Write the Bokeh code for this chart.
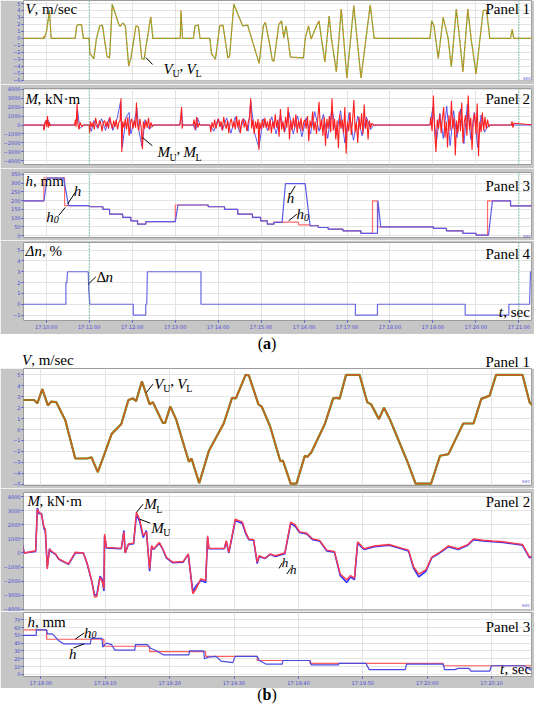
from bokeh.plotting import figure
from bokeh.layouts import column
from bokeh.models import Div, Label, Span
from bokeh.embed import file_html
from bokeh.resources import INLINE

# ===================== DATA (a) : time in minutes after 17:00 =====================
A_TICKS = [10, 11, 12, 13, 14, 15, 16, 17, 18, 19, 20, 21]
A_TICK_LABELS = ["17:10:00", "17:11:00", "17:12:00", "17:13:00", "17:14:00", "17:15:00",
                 "17:16:00", "17:17:00", "17:18:00", "17:19:00", "17:20:00", "17:21:00"]

# Panel 1 (a): V, m/sec  (V_U and V_L overlap)
VA_T = [9.40, 9.94, 9.947, 9.96, 10.007, 10.077, 10.115, 10.673, 10.711, 10.76, 10.826, 10.864,
        11.0, 11.017, 11.108, 11.170, 11.246, 11.308, 11.415, 11.475, 11.537, 11.690, 11.720,
        11.782, 11.842, 11.920, 11.973, 12.088, 12.149, 12.225, 12.278, 12.432, 12.484,
        13.120, 13.136, 13.173, 13.425, 13.464, 13.540, 13.579, 13.808, 13.847, 13.939,
        14.037, 14.113, 14.228, 14.267, 14.366, 14.572, 14.687, 14.955, 15.054, 15.10,
        15.184, 15.260, 15.299, 15.414, 15.476, 15.529, 15.582, 15.627, 15.682, 15.987,
        16.026, 16.102, 16.164, 16.292, 16.348, 16.407, 16.485, 16.584, 16.637, 16.752,
        16.866, 16.997, 17.157, 17.325, 17.540, 17.632, 18.931, 18.970, 19.023, 19.124,
        19.238, 19.353, 19.428, 19.543, 19.620, 19.697, 19.811, 19.887, 20.002, 20.169,
        20.247, 20.323, 20.805, 20.844, 20.881, 21.36]
VA = [0, 0, 0.3, 0, 1.0, 4.0, 0, 0, 1.8, 2.0, 1.9, 0,
      0, -2.2, -2.9, 0, 1.8, 1.9, -2.6, -2.8, 4.9, 2.0, 1.7,
      2.2, 1.8, -4.0, -2.8, 1.8, 1.6, -2.9, -3.0, 3.1, 0,
      0, 4.0, 0, 0, 1.8, 1.9, 0, 0, -2.2, -3.0,
      1.8, 1.9, -2.8, -2.6, 4.9, 1.8, 1.9, -3.6, 1.8, 2.3,
      -0.3, -3.1, -3.3, 2.0, 2.5, 0.1, 1.8, -0.1, -2.7, -2.8,
      -0.1, 1.8, -0.1, 1.8, 2.5, -0.1, -3.4, 3.2, 0, -4.8,
      4.2, -5.7, 4.7, -5.7, 4.8, 0, 0, 2.5, 1.8, -2.9,
      3.0, 0, -4.1, 4.2, 0, -4.8, 4.2, 0, -5.1, 4.0,
      4.0, 0, 0, 1.3, 0, 0]

# Panel 2 (a): M, kN*m  (M_L red, M_U blue)
MA_L_T = [9.40, 9.94, 9.95, 9.965, 9.99, 10.01, 10.03, 10.05, 10.07, 10.09, 10.11,
          10.66, 10.68, 10.695, 10.72, 10.735, 10.76, 10.79, 10.83, 10.86,
          11.0, 11.01, 11.03, 11.06, 11.09, 11.12, 11.15, 11.18, 11.21, 11.24, 11.27, 11.30,
          11.33, 11.36, 11.39, 11.42, 11.45, 11.48, 11.51, 11.54, 11.57, 11.60, 11.63, 11.66,
          11.69, 11.72, 11.74, 11.76, 11.78, 11.81, 11.84, 11.87, 11.90, 11.93, 11.96, 11.99,
          12.02, 12.05, 12.08, 12.10, 12.12, 12.15, 12.18, 12.21, 12.24, 12.26, 12.29, 12.32,
          12.35, 12.38, 12.41, 12.44, 12.47, 12.49,
          13.11, 13.13, 13.15, 13.165, 13.18, 13.42, 13.44, 13.47, 13.50, 13.53, 13.56, 13.58,
          13.81, 13.83, 13.86, 13.89, 13.92, 13.95, 13.98, 14.01, 14.04, 14.07, 14.10, 14.13,
          14.16, 14.19, 14.22, 14.25, 14.28, 14.31, 14.34, 14.37, 14.40, 14.43, 14.46, 14.49,
          14.52, 14.55, 14.58, 14.61, 14.64, 14.67, 14.70, 14.73, 14.76, 14.78, 14.81, 14.84,
          14.87, 14.90, 14.93, 14.95, 14.97, 15.00, 15.03, 15.06, 15.09, 15.12, 15.15, 15.18,
          15.21, 15.24, 15.27, 15.30, 15.33, 15.36, 15.39, 15.42, 15.45, 15.48, 15.51, 15.54,
          15.57, 15.60, 15.63, 15.66, 15.69, 15.72, 15.75, 15.78, 15.81, 15.84, 15.87, 15.90,
          15.93, 15.96, 15.99, 16.02, 16.05, 16.08, 16.11, 16.14, 16.17, 16.20, 16.23, 16.26,
          16.29, 16.32, 16.35, 16.38, 16.41, 16.44, 16.47, 16.50, 16.53, 16.56, 16.59, 16.62,
          16.65, 16.68, 16.71, 16.74, 16.77, 16.80, 16.83, 16.86, 16.89, 16.92, 16.95, 16.98,
          17.01, 17.04, 17.07, 17.10, 17.13, 17.16, 17.19, 17.22, 17.25, 17.28, 17.31, 17.34,
          17.37, 17.40, 17.43, 17.46, 17.49, 17.52, 17.55, 17.58, 17.62,
          18.93, 18.95, 18.98, 19.01, 19.04, 19.07, 19.10, 19.13, 19.16, 19.19, 19.22, 19.25,
          19.28, 19.31, 19.34, 19.37, 19.40, 19.43, 19.46, 19.49, 19.52, 19.55, 19.58, 19.61,
          19.64, 19.67, 19.70, 19.73, 19.76, 19.79, 19.82, 19.85, 19.88, 19.91, 19.94, 19.97,
          20.00, 20.03, 20.06, 20.09, 20.12, 20.15, 20.18, 20.21, 20.24, 20.27, 20.30, 20.33,
          20.82, 20.84, 20.86, 20.88, 21.36]
MA_L = [0, 0, -600, 100, 500, -200, 1000, -300, 300, -100, 0,
        0, 600, -200, 2400, 200, -500, 300, -200, 0,
        0, -900, 400, -200, 300, -500, 800, 100, -300, 500, 200, -700,
        300, 500, -200, 400, -400, 900, 200, -400, 500, -200, 600, -500,
        300, 500, 3000, -3000, 400, -300, 700, -500, 900, -1200, 300, 700,
        -400, 500, -300, 2500, 200, -600, 700, -300, -2700, 400, -400, 500,
        -300, 800, -400, 300, -200, 0,
        0, 800, 2000, -400, 0, 0, 600, -500, 900, -300, 200, 0,
        0, -800, 300, -300, 600, -400, 200, 700, -200, 400, -600, 900,
        100, -400, 500, -900, 300, 700, -300, 400, -500, 1000, -300, 600,
        -900, 400, 700, -300, 500, -700, 300, 800, 3000, -400, 600, -1000,
        400, -400, 700, -2800, 300, -500, 600, -300, 800, -300, 400, -600,
        700, -900, 400, -400, 1200, -300, 600, -1300, 1800, -500, 400, -800,
        900, -300, 2000, -1600, 500, -600, 800, -300, 1200, -900, 500, -400,
        800, -700, 300, 600, -400, 1000, -1800, 500, -300, 1500, -600, 400,
        -1000, 700, 2600, -500, 600, -1200, 900, -2300, 700, -400, 1000, -800,
        3000, -600, 700, -1600, 500, -2600, 1200, -400, 600, -900, 2000, -3200,
        400, -700, 1400, -1100, 600, 2800, -800, 300, -2000, 900, -500, 1300,
        -1000, 2300, -400, 700, -1600, 500, -300, 200, 0,
        0, 900, -700, 3300, -800, -3000, 600, -400, 1200, -900, 700, 2000,
        -1400, 400, -2500, 1100, -600, 2700, -400, 800, -3400, 500, -900, 1500,
        -700, 2500, -2000, 400, 1100, -1200, 3300, -500, 800, -2800, 600, 1300,
        -1000, 2400, -3500, 400, -800, 1400, -600, 900, -400, 600, -200, 0,
        0, 400, -300, 200, 0]

MA_U_T = [9.40, 9.94, 9.95, 9.98, 10.04, 10.10, 10.66, 10.70, 10.73, 10.78, 10.86,
          11.0, 11.05, 11.11, 11.20, 11.29, 11.38, 11.47, 11.55, 11.65, 11.73, 11.77, 11.86,
          11.93, 11.97, 12.06, 12.11, 12.16, 12.23, 12.30, 12.40, 12.49,
          13.11, 13.15, 13.18, 13.42, 13.48, 13.52, 13.58,
          13.81, 13.90, 14.00, 14.10, 14.20, 14.30, 14.40, 14.50, 14.60, 14.70, 14.76, 14.85,
          14.95, 15.05, 15.15, 15.25, 15.35, 15.45, 15.55, 15.65, 15.75, 15.85, 15.95, 16.05,
          16.15, 16.25, 16.35, 16.45, 16.55, 16.65, 16.75, 16.85, 16.95, 17.05, 17.15, 17.25,
          17.35, 17.45, 17.55, 17.62,
          18.93, 19.00, 19.08, 19.16, 19.24, 19.32, 19.40, 19.48, 19.56, 19.64, 19.72, 19.80,
          19.88, 19.96, 20.04, 20.12, 20.20, 20.30, 21.36]
MA_U = [0, 0, -500, 400, 600, 0, 0, 500, 1700, -400, 0,
        0, -700, 500, -400, 700, -600, 800, -600, 700, 2600, -2500, 900,
        1400, -1000, 600, 1900, -700, -2400, 600, -500, 0,
        0, 1500, 0, 0, -600, 800, 0,
        0, -700, 700, -600, 800, -900, 900, -800, 700, -700, 2600, -900,
        -2500, 700, -600, 900, -1000, 1100, -800, 1400, -1000, 1000, -1300, 800,
        -1000, 1500, -700, 1200, -1500, 1900, -1100, 1600, -2000, 1400, -1700, 1000,
        -1200, 900, -500, 0,
        0, 2000, -1900, 1300, -1500, 2100, -2300, 1600, -1400, 1800, -2100, 2300,
        -1600, 1400, -2500, 1100, -800, 0, 0]

# Panel 3 (a): h, mm  (h0 red, h blue)
HA0_T = [9.40, 9.947, 9.947, 10.428, 10.428, 11.0, 11.0, 11.32, 11.32, 11.475, 11.475, 11.78,
         11.78, 11.97, 11.97, 12.126, 12.126, 12.317, 12.317, 13.005, 13.005, 13.77, 13.77,
         14.15, 14.15, 14.457, 14.457, 14.80, 14.80, 14.99, 14.99, 15.146, 15.146, 15.299,
         15.299, 15.873, 15.873, 16.141, 16.141, 16.332, 16.332, 16.561, 16.561, 16.905,
         16.905, 17.325, 17.325, 17.593, 17.593, 17.708, 17.708, 19.008, 19.008, 19.314,
         19.314, 19.697, 19.697, 20.002, 20.002, 20.27, 20.27, 20.805, 20.805, 21.36]
HA0 = [199, 199, 330, 330, 172, 172, 165, 165, 150, 150, 123, 123,
       104, 104, 85, 85, 66, 66, 80, 80, 175, 175, 165,
       165, 150, 150, 123, 123, 104, 104, 85, 85, 66, 66,
       78, 78, 62, 62, 57, 57, 47, 47, 38, 38,
       28, 28, 13, 13, 199, 199, 51, 51, 42, 42,
       28, 28, 13, 13, 4, 4, 199, 199, 170, 170]
HA_T = [9.40, 9.947, 10.023, 10.405, 10.52, 11.0, 11.0, 11.32, 11.32, 11.475, 11.475, 11.78,
        11.78, 11.97, 11.97, 12.126, 12.126, 12.317, 12.317, 13.005, 13.066, 13.77, 13.77,
        14.15, 14.15, 14.457, 14.457, 14.80, 14.80, 14.99, 14.99, 15.146, 15.146, 15.299,
        15.299, 15.49, 15.567, 16.026, 16.141, 16.332, 16.332, 16.561, 16.561, 16.905,
        16.905, 17.325, 17.325, 17.708, 17.72, 17.784, 19.008, 19.008, 19.314,
        19.314, 19.697, 19.697, 20.002, 20.002, 20.293, 20.384, 20.805, 20.805, 21.36]
HA = [199, 199, 328, 328, 172, 172, 165, 165, 150, 150, 123, 123,
      104, 104, 85, 85, 66, 66, 80, 80, 175, 175, 165,
      165, 150, 150, 123, 123, 104, 104, 85, 85, 66, 66,
      76, 76, 297, 297, 57, 57, 47, 47, 38, 38,
      28, 28, 13, 13, 199, 51, 51, 42, 42,
      28, 28, 13, 13, 4, 4, 199, 199, 170, 170]

# Panel 4 (a): delta n, %
DN_T = [9.40, 10.459, 10.459, 10.48, 10.497, 10.979, 10.99, 11.017, 12.026, 12.026, 12.317,
        12.317, 12.34, 12.355, 13.602, 13.602, 17.195, 17.195, 17.708, 17.708, 19.750, 19.750,
        20.766, 20.766, 21.248, 21.255, 21.27, 21.36]
DN = [0, 0, 2, 2, 3, 3, 1.3, 0, 0, -1, -1,
      0, 0, 3, 3, 0, 0, -1, -1, 0, 0, -1,
      -1, 0, 0, 1, 3, 3]

# ===================== DATA (b) : seconds after 17:19:00 =====================
B_TICKS = [0, 10, 20, 30, 40, 50, 60, 70]
B_TICK_LABELS = ["17:19:00", "17:19:10", "17:19:20", "17:19:30", "17:19:40", "17:19:50",
                 "17:20:00", "17:20:10"]

VB_T = [-2.85, -1.05, -0.54, 0.23, 1.1, 1.6, 2.4, 3.8, 5.35, 7.15, 7.9, 8.2, 8.85, 9.97, 11.0,
        12.5, 13.6, 14.3, 14.8, 15.7, 16.9, 17.4, 18.95, 19.3, 20.1, 21.0, 23.0, 23.4, 24.6,
        26.1, 28.4, 29.7, 30.3, 31.8, 32.3, 33.8, 34.3, 35.6, 37.2, 37.6, 38.8, 39.7, 41.0,
        41.4, 42.0, 44.1, 45.4, 46.1, 46.4, 47.4, 49.5, 50.7, 51.3, 52.5, 53.3, 54.3, 56.9,
        58.2, 60.6, 62.0, 63.3, 65.6, 67.2, 68.4, 69.7, 70.7, 74.8, 75.9, 76.7]
VB = [2.7, 2.7, 2.4, 3.7, 2.2, 2.55, 2.5, 0.85, -2.65, -2.65, -2.55, -3.0, -3.9, -2.1, -0.4,
      0.5, 2.7, 2.85, 2.6, 4.4, 2.3, 2.5, 0.6, 0.6, 2.1, 0.95, -2.95, -2.65, -4.9,
      -1.95, 0.55, 2.9, 2.85, 5.0, 4.95, 2.3, 2.1, 0.3, -2.9, -2.85, -4.95, -4.95, -2.4,
      -2.5, -2.1, 0.5, 2.85, 2.9, 2.8, 5.0, 5.0, 2.5, 2.3, 0.95, 2.0, 0.8, -2.9,
      -4.95, -4.95, -2.4, -2.25, 0.55, 0.55, 2.8, 3.1, 5.0, 5.0, 2.5, 1.95]

MB_T = [-2.85, -2.6, -0.8, -0.54, -0.28, 0.1, 0.5, 0.7, 1.0, 1.35, 1.6, 2.3, 2.8, 3.6, 4.3,
        5.35, 6.6, 7.15, 7.9, 8.35, 8.7, 9.2, 9.5, 9.8, 9.9, 10.2, 12.5, 12.9, 13.1, 13.6,
        14.4, 14.85, 15.35, 15.9, 16.4, 16.9, 17.2, 17.5, 18.4, 18.95, 19.5, 20.5, 22.1, 22.9,
        23.6, 24.1, 24.85, 25.6, 25.9, 26.1, 28.5, 28.8, 29.2, 30.2, 31.3, 31.8, 32.3, 33.05,
        33.6, 33.9, 34.8, 35.6, 36.4, 37.9, 38.8, 39.5, 40.2, 41.3, 42.2, 43.3, 44.4, 45.6,
        46.5, 47.5, 48.1, 48.7, 49.2, 50.2, 51.8, 54.1, 55.6, 57.1, 57.9, 58.7, 59.8, 60.7,
        61.8, 63.3, 64.8, 66.3, 67.2, 68.7, 70.2, 71.8, 73.3, 74.8, 75.9, 76.4]
MB_L = [520, 0, 160, 3100, 2900, 2750, 1800, 1700, -1130, 280, 160, -70, -420, -610, -780,
        50, 0, -660, -1960, -3140, -3100, -1720, -1960, -2550, 1350, 400, 330, 1500, 0, 640,
        700, 2900, 2400, 1230, 1500, -1130, 520, 280, 750, 280, -300, -660, -610, -70,
        -2900, -2550, -1840, -1960, 1230, 330, 330, 870, 50, 2400, 2200, 1500, 990, 950,
        -660, -190, -380, -70, -200, 0, 2200, 2000, 1500, 1400, 1000, 900, 200, 100,
        -1500, -1900, -1600, -1800, 800, 300, 500, 600, 400, 200, -1000, -1500, -1200, -300,
        0, 500, 300, 600, 1000, 900, 850, 800, 700, 600, -300, -200]
MB_U = [600, 0, 100, 3200, 2800, 2800, 1700, 1600, -1000, 300, 100, -100, -450, -650, -800,
        0, 0, -700, -2000, -3000, -2950, -1650, -1850, -2700, 1200, 350, 300, 1600, 0, 600,
        650, 2700, 2250, 1100, 1600, -1300, 450, 250, 700, 250, -350, -700, -650, -100,
        -2750, -2350, -1950, -2100, 1100, 300, 300, 800, 0, 2300, 2100, 1400, 950, 900,
        -750, -250, -400, -100, -250, -50, 2100, 1900, 1450, 1350, 950, 850, 150, 50,
        -1600, -2100, -1700, -1900, 700, 250, 450, 550, 350, 150, -1100, -1700, -1300, -350,
        -50, 450, 250, 550, 950, 850, 800, 750, 650, 550, -350, -250]

HB0_T = [-2.85, 0.9, 0.9, 9.8, 9.8, 16.9, 16.9, 25.6, 25.6, 33.6, 33.6, 41.8, 41.8, 62.5,
         62.5, 76.2]
HB0 = [57, 57, 45, 45, 36, 36, 29, 29, 23, 23, 17.7, 17.7, 14, 14, 11, 11]
HB_T = [-2.85, -0.7, -0.7, 0.9, 1.0, 1.8, 2.8, 3.6, 7.7, 7.8, 9.5, 9.6, 10.2, 11.0, 11.5,
        14.6, 14.7, 16.6, 16.9, 18.0, 19.0, 23.0, 23.1, 25.3, 25.4, 26.0, 27.2, 28.0, 29.8,
        30.2, 33.6, 33.9, 35.0, 37.5, 37.6, 41.8, 42.0, 46.2, 46.3, 50.5, 51.0, 56.6, 56.8,
        62.5, 62.7, 64.3, 64.8, 66.5, 66.8, 69.7, 70.0, 75.0, 76.2]
HB = [50, 50, 57, 57, 52, 52, 43, 39, 39, 46, 46, 35, 40, 38, 31,
      31, 38, 38, 34, 30, 25, 25, 30, 30, 20, 22, 23, 17, 15,
      23, 23, 18, 13, 13, 17.7, 17.7, 12, 12, 14, 14, 6, 6, 13,
      13, 6, 6, 7.6, 7.6, 4, 4, 11, 11, 5]

# ===================== helpers =====================
SERIF = "Liberation Serif"
TICK_BLUE = "#4b4bd2"
GRID = "#e4e4e4"


def make_fig(height, xr, yr, yticks, top, bottom, right, xticks, xlabels, show_x):
    p = figure(width=534, height=height, x_range=xr, y_range=yr, output_backend="svg",
               toolbar_location=None, min_border_top=top, min_border_bottom=bottom,
               min_border_left=18, min_border_right=right, margin=0)
    p.border_fill_color = "#c6c6c6"
    p.background_fill_color = "white"
    p.outline_line_color = "#9c9c9c"
    p.yaxis.ticker = yticks
    p.xaxis.ticker = xticks
    p.xgrid.ticker = xticks
    p.ygrid.ticker = yticks
    p.xaxis.major_label_overrides = {t: l for t, l in zip(xticks, xlabels)}
    p.grid.grid_line_color = GRID
    p.axis.axis_line_color = None
    p.axis.major_tick_line_color = TICK_BLUE
    p.axis.major_tick_out = 2
    p.axis.major_tick_in = 0
    p.axis.minor_tick_line_color = None
    p.axis.major_label_text_font_size = "5px"
    p.axis.major_label_text_color = TICK_BLUE
    p.axis.major_label_text_font = "DejaVu Sans"
    p.axis.major_label_standoff = 1
    p.xaxis.visible = show_x
    return p


def txt(p, x, y, text, size=15, style="normal", align="left", xoff=0, color="black",
        font=SERIF):
    p.add_layout(Label(x=x, y=y, text=text, text_font=font, text_font_size=f"{size}px",
                       text_font_style=style, text_align=align, text_baseline="top",
                       text_color=color, x_offset=xoff))


# ===================== (a) =====================
AX = (9.472, 21.293)
XL = 9.52
a1 = make_fig(84, AX, (-6.05, 5.43), list(range(-6, 6)), 0, 4, 1, A_TICKS, A_TICK_LABELS, False)
a1.line(VA_T, VA, line_color="#7f9f2f", line_width=1.2)
a1.line(VA_T, VA, line_color="#e39226", line_width=1.2, line_dash="2 3")
txt(a1, XL, 5.29, "V", style="italic")
txt(a1, XL, 5.29, ", m/sec", xoff=9)
txt(a1, 21.26, 5.29, "Panel 1", align="right")
txt(a1, 12.729, -3.32, "V", style="italic")
txt(a1, 12.729, -4.3, "U", size=10, xoff=9)
txt(a1, 12.729, -3.32, ",", xoff=16)
txt(a1, 12.729, -3.32, "V", style="italic", xoff=23)
txt(a1, 12.729, -4.3, "L", size=10, xoff=32)
a1.segment(x0=[12.317], y0=[-2.75], x1=[12.477], y1=[-3.75], line_color="black", line_width=1)
txt(a1, 21.29, -5.3, "sec", size=5, align="right", color=TICK_BLUE, font="DejaVu Sans")

a2 = make_fig(84, AX, (-4410, 4080), list(range(-4000, 4001, 1000)), 4, 4, 1, A_TICKS,
              A_TICK_LABELS, False)
a2.line(MA_U_T, MA_U, line_color="#4646f0", line_width=0.9)
a2.line(MA_L_T, MA_L, line_color="#ff1f1f", line_width=1.1)
txt(a2, XL, 3745, "M", style="italic")
txt(a2, XL, 3745, ", kN·m", xoff=12)
txt(a2, 21.26, 3745, "Panel 2", align="right")
txt(a2, 12.59, -2175, "M", style="italic")
txt(a2, 12.59, -3000, "U", size=10, xoff=12)
txt(a2, 12.59, -2175, ",", xoff=19)
txt(a2, 12.59, -2175, "M", style="italic", xoff=26)
txt(a2, 12.59, -3000, "L", size=10, xoff=38)
a2.segment(x0=[12.24], y0=[-1393], x1=[12.47], y1=[-2320], line_color="black", line_width=1)

a3 = make_fig(72, AX, (-10, 360), list(range(0, 351, 50)), 4, 3, 1, A_TICKS, A_TICK_LABELS,
              False)
a3.line(HA0_T, HA0, line_color="#ff6b6b", line_width=1.2)
a3.line(HA_T, HA, line_color="#5a5ae6", line_width=1.2)
txt(a3, XL, 358, "h", style="italic")
txt(a3, XL, 358, ", mm", xoff=7.5)
txt(a3, 21.26, 331, "Panel 3", align="right")
txt(a3, 10.642, 303, "h", style="italic")
txt(a3, 10.0, 155, "h", style="italic")
txt(a3, 10.0, 112, "0", size=10, style="italic", xoff=7.5)
txt(a3, 15.596, 263, "h", style="italic")
txt(a3, 15.826, 167, "h", style="italic")
txt(a3, 15.826, 124, "0", size=10, style="italic", xoff=7.5)
a3.segment(x0=[10.498, 10.291, 15.68, 15.642], y0=[180, 115, 237, 85],
           x1=[10.672, 10.443, 15.796, 15.833], y1=[246, 161, 284, 123],
           line_color="black", line_width=1)
txt(a3, 21.29, 15, "sec", size=5, align="right", color=TICK_BLUE, font="DejaVu Sans")

a4 = make_fig(94, AX, (-1.5, 5.7), list(range(-1, 6)), 2, 14, 1, A_TICKS, A_TICK_LABELS, True)
a4.line(DN_T, DN, line_color="#6a6ae0", line_width=1.2)
txt(a4, XL, 5.61, "Δ", style="italic")
txt(a4, XL, 5.61, "n", style="italic", xoff=9)
txt(a4, XL, 5.61, ", %", xoff=16.5)
txt(a4, 21.26, 5.42, "Panel 4", align="right")
txt(a4, 11.17, 3.30, "Δ")
txt(a4, 11.17, 3.30, "n", style="italic", xoff=9)
a4.segment(x0=[10.979], y0=[1.85], x1=[11.154], y1=[2.53], line_color="black", line_width=1)
txt(a4, 20.53, 0.05, "t", style="italic")
txt(a4, 20.53, 0.05, ", sec", xoff=4.5)

for p in (a1, a2, a3, a4):
    for loc in (11.0, 21.0):
        p.add_layout(Span(location=loc, dimension="height", line_color="#2aa86a",
                          line_dash="1 2", line_width=1))

div_a = Div(text=(
    '<div style="position:relative;width:534px;height:34px;font-family:\'Liberation Serif\';'
    'color:black;">'
    '<div style="position:absolute;left:0;top:1px;width:534px;text-align:center;'
    'font-size:16px;line-height:17px;">(<b>a</b>)</div>'
    '<div style="position:absolute;left:22px;top:19px;font-size:15px;line-height:15px;'
    'white-space:nowrap;"><i>V</i>, m/sec</div>'
    '<div style="position:absolute;right:4px;top:21px;font-size:15px;line-height:15px;'
    'white-space:nowrap;">Panel 1</div></div>'), width=534, height=34, margin=0)

# ===================== (b) =====================
BX = (-2.69, 76.2)
b1 = make_fig(120, BX, (-5.12, 5.58), list(range(-5, 6)), 0, 3, 3, B_TICKS, B_TICK_LABELS,
              False)
b1.line(VB_T, VB, line_color="#3a9d2a", line_width=2.2)
b1.line(VB_T, VB, line_color="#c9631f", line_width=1.7)
txt(b1, 17.6, 4.85, "V", style="italic")
txt(b1, 17.6, 4.25, "U", size=10, xoff=9)
txt(b1, 17.6, 4.85, ",", xoff=16)
txt(b1, 17.6, 4.85, "V", style="italic", xoff=23)
txt(b1, 17.6, 4.25, "L", size=10, xoff=32)
b1.segment(x0=[16.4], y0=[3.38], x1=[17.4], y1=[4.14], line_color="black", line_width=1)
txt(b1, 76.0, -4.4, "sec", size=5, align="right", color=TICK_BLUE, font="DejaVu Sans")

b2 = make_fig(123, BX, (-4020, 4300), list(range(-4000, 4001, 1000)), 4, 2, 3, B_TICKS,
              B_TICK_LABELS, False)
b2.line(MB_T, MB_U, line_color="#2f2fff", line_width=1.6)
b2.line(MB_T, MB_L, line_color="#ff3a4e", line_width=1.4)
txt(b2, -2.08, 4250, "M", style="italic")
txt(b2, -2.08, 4250, ", kN·m", xoff=12)
txt(b2, 76.0, 4160, "Panel 2", align="right")
txt(b2, 16.08, 4016, "M", style="italic")
txt(b2, 16.08, 3500, "L", size=10, xoff=12)
txt(b2, 17.15, 2380, "M", style="italic")
txt(b2, 17.15, 1864, "U", size=10, xoff=12)
txt(b2, 37.4, -150, "h", style="italic", size=13)
txt(b2, 38.7, -650, "h", style="italic", size=13)
b2.segment(x0=[14.85, 15.35, 37.0, 38.2], y0=[2878, 2402, -1100, -1500],
           x1=[15.88, 17.0, 37.5, 38.8], y1=[3468, 2117, -700, -1100],
           line_color="black", line_width=1)
txt(b2, 76.0, -3500, "sec", size=5, align="right", color=TICK_BLUE, font="DejaVu Sans")

b3 = make_fig(77, BX, (-2.8, 79.3), list(range(0, 71, 10)), 1, 8, 3, B_TICKS, B_TICK_LABELS,
              True)
b3.line(HB0_T, HB0, line_color="#ff5c5c", line_width=1.2)
b3.line(HB_T, HB, line_color="#4a4ae0", line_width=1.2)
txt(b3, -2.08, 76.9, "h", style="italic")
txt(b3, -2.08, 76.9, ", mm", xoff=7.5)
txt(b3, 6.69, 63.6, "h", style="italic")
txt(b3, 6.69, 56.0, "0", size=10, style="italic", xoff=7.5)
txt(b3, 4.38, 35.8, "h", style="italic")
b3.segment(x0=[5.35, 5.1], y0=[45.1, 33.8], x1=[6.74, 6.74], y1=[53.1, 39.1],
           line_color="black", line_width=1)
txt(b3, 76.0, 70.9, "Panel 3", align="right")
txt(b3, 71.3, 16.5, "t", style="italic")
txt(b3, 71.3, 16.5, ", sec", xoff=4.5)

div_b = Div(text=(
    '<div style="width:534px;height:14px;text-align:center;font-family:\'Liberation Serif\';'
    'font-size:16px;line-height:14px;color:black;">(<b>b</b>)</div>'),
    width=534, height=14, margin=0)

layout = column(a1, a2, a3, a4, div_a, b1, b2, b3, div_b, spacing=0)

open("out.html", "w").write(file_html(layout, INLINE))
